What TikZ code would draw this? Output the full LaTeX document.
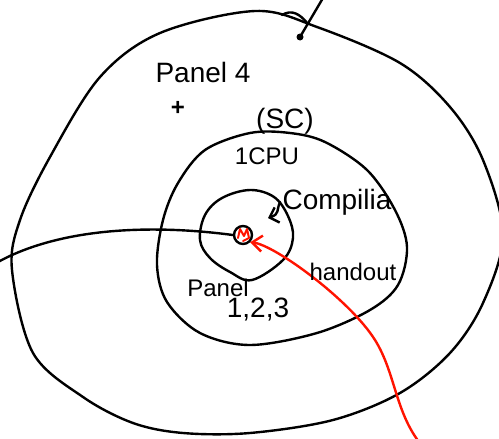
\documentclass[tikz,border=0pt]{standalone}
\usepackage{fontspec}
\setmainfont{Liberation Sans}
\usetikzlibrary{arrows.meta}
\tikzset{
  pen/.style={line width=1.2pt, line cap=round, line join=round},
  redpen/.style={pen, red!85!orange},
  hand/.style={inner sep=1pt, font=\fontsize{14}{16}\selectfont},
  smallhand/.style={hand, font=\fontsize{12}{14}\selectfont},
}
\begin{document}
\begin{tikzpicture}[x=0.5pt, y=-0.5pt]
    \useasboundingbox (0,0) rectangle (499,439);
    \clip (0,0) rectangle (499,439);

    % Outer ring (panel 4)
    \draw[pen] plot[smooth cycle, tension=0.55] coordinates {(255,11) (317,27) (400,63) (450,107) (483,160) (503,235) (483,303) (450,353) (400,393) (333,420) (250,433) (183,433) (133,423) (83,397) (33,353) (12,270) (20,220) (50,157) (100,77) (160,33)};
    \draw[pen] (282,15) .. controls (292,9) and (300,14) .. (308,24);
    \draw[pen] (323,-2) -- (300,37);
    \fill (300,37) circle (3.5);

    % Middle ring
    \draw[pen] plot[smooth cycle, tension=0.55] coordinates {(250,133) (290,133) (325,142) (367,170) (395,210) (407,247) (398,285) (370,310) (317,333) (250,345) (200,333) (167,302) (157,265) (163,220) (178,183) (205,150)};

    % Inner ring
    \draw[pen] plot[smooth cycle, tension=0.6] coordinates {(250,190) (274,197) (288,216) (293,238) (283,260) (252,280) (230,272) (210,258) (200,240) (205,215) (222,198)};

    % Core
    \node[draw, pen, circle, minimum size=9pt, inner sep=0pt] (core) at (243,235) {};
    \draw[redpen, line width=1pt] (238,238) -- (240,229) -- (244,236) -- (247,229) -- (249,238) -- (243,241);

    % Line from the left edge
    \coordinate (leftend) at (-2,262);
    \draw[pen] (core.west) .. controls (150,224) and (60,228) .. (leftend);

    % Red arrow from below
    \coordinate (redstart) at (419,442);
    \draw[redpen] (redstart) .. controls (395,410) and (395,372) .. (375,340);
    \draw[redpen, -{Straight Barb[length=5pt, width=8pt]}] (375,340) .. controls (350,300) and (275,245) .. (core.south east);

    % Labels
    \node[hand] (panelfour) at (203,72) {Panel 4};
    \node[smallhand] (plus) at (178,108) {\textbf{+}};
    \node[hand] (sc) at (285,121) {(SC)};
    \node[smallhand] (cpu) at (267,156) {1CPU};
    \node[hand] (compiler) at (337,202) {Compilia};
    \coordinate (cmptip) at (268,218);
    \draw[pen, -{Straight Barb[length=4pt, width=8pt]}] (compiler.west) .. controls +(-4,8) and +(12,-4) .. (cmptip);
    \node[smallhand] (handout) at (353,272) {handout};
    \node[smallhand] (panel) at (218,288) {Panel};
    \node[hand] (nums) at (258,310) {1,2,3};
\end{tikzpicture}
\end{document}
